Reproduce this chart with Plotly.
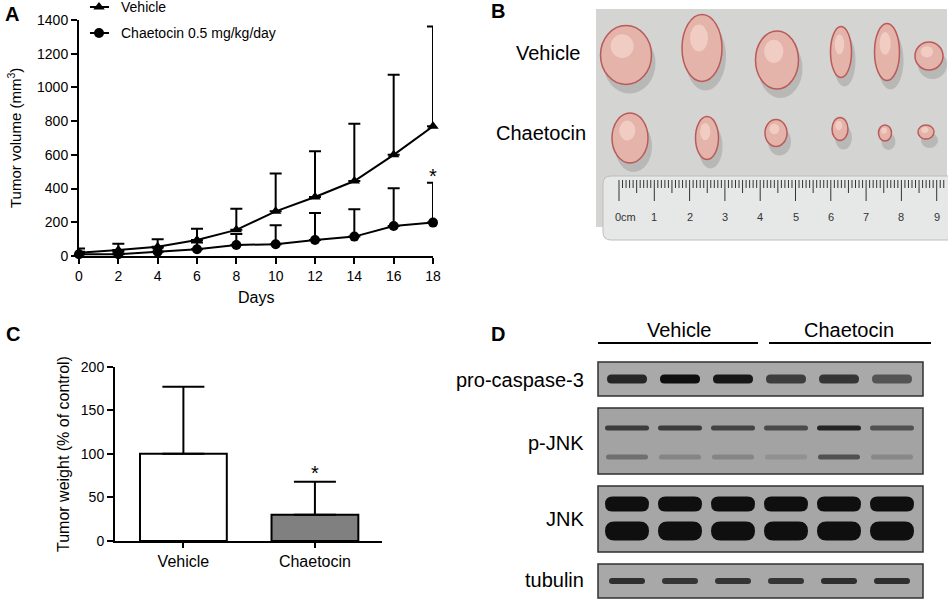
import plotly.graph_objects as go

# ---- panel A data: tumor volume over time
days = [0, 2, 4, 6, 8, 10, 12, 14, 16, 18]
vehicle_mean = [20, 35, 55, 95, 155, 265, 350, 445, 600, 770]
vehicle_err = [25, 37, 45, 67, 125, 225, 272, 340, 475, 592]
chaetocin_mean = [10, 10, 25, 40, 65, 70, 95, 115, 178, 198]
chaetocin_err = [15, 15, 25, 40, 65, 112, 160, 163, 224, 237]
series_names = ["Vehicle", "Chaetocin 0.5 mg/kg/day"]
series_symbols = ["triangle-up", "circle"]

# ---- panel C data: tumor weight
groups = ["Vehicle", "Chaetocin"]
weight_mean = [100, 30]
weight_err = [77, 38]
bar_colors = ["white", "#808080"]

# ---- panel D: band intensity per lane (approx. from blot)
lane_x = [627, 680, 733, 786, 839, 892]
procasp = [0.85, 1.0, 0.95, 0.7, 0.75, 0.55]
pjnk_up = [0.7, 0.7, 0.65, 0.6, 0.85, 0.55]
pjnk_low = [0.35, 0.2, 0.2, 0.12, 0.55, 0.18]
jnk = [1, 1, 1, 1, 1, 1]
tubulin = [0.8, 0.75, 0.75, 0.75, 0.8, 0.8]

# ---- panel B: tumors in photo (cx, cy, w, h) in pixels
tumors_vehicle = [(626, 55, 51, 59), (702, 48, 40, 67), (777, 60, 43, 58),
                  (841, 52, 21, 51), (887, 52, 25, 57), (929, 56, 28, 28)]
tumors_chaetocin = [(630, 138, 36, 50), (707, 138, 23, 43), (776, 133, 22, 27),
                    (840, 129, 16, 23), (885, 133, 13, 16), (926, 132, 16, 14)]

W, H = 948, 601
FONT = "Liberation Sans, Arial, sans-serif"


def py(v):
    return 1 - v / H


def px(v):
    return v / W


def rrect(x0, y0, x1, y1, r):
    r = min(r, (x1 - x0) / 2, (y1 - y0) / 2)
    return (f"M{x0+r},{y0} L{x1-r},{y0} Q{x1},{y0} {x1},{y0+r} L{x1},{y1-r} "
            f"Q{x1},{y1} {x1-r},{y1} L{x0+r},{y1} Q{x0},{y1} {x0},{y1-r} "
            f"L{x0},{y0+r} Q{x0},{y0} {x0+r},{y0} Z")


fig = go.Figure()

# panel A traces
for name, sym, mean, err in zip(series_names, series_symbols,
                                [vehicle_mean, chaetocin_mean], [vehicle_err, chaetocin_err]):
    fig.add_trace(go.Scatter(
        x=days, y=mean, name=name, mode="lines+markers", showlegend=False,
        line=dict(color="black", width=2),
        marker=dict(symbol=sym, size=10, color="black"),
        error_y=dict(type="data", symmetric=False, array=err,
                     arrayminus=[0] * len(days), color="black", thickness=2, width=6),
        cliponaxis=False, xaxis="x", yaxis="y"))

# panel C bars
fig.add_trace(go.Bar(
    x=groups, y=weight_mean, width=0.66, showlegend=False,
    marker=dict(color=bar_colors, line=dict(color="black", width=2)),
    error_y=dict(type="data", symmetric=False, array=weight_err,
                 arrayminus=[0, 0], color="black", thickness=2, width=21),
    xaxis="x2", yaxis="y2"))

shapes = []

# panel B photo
shapes.append(dict(type="rect", xref="x3", yref="y3", x0=596, x1=947, y0=9, y1=227,
                   fillcolor="#d4d4d2", line=dict(width=0), layer="below"))
for cx, cy, w, h in tumors_vehicle + tumors_chaetocin:
    shapes.append(dict(type="circle", xref="x3", yref="y3",
                       x0=cx - w / 2 + 3, x1=cx + w / 2 + 4, y0=cy - h / 2 + 8, y1=cy + h / 2 + 9,
                       fillcolor="rgba(150,150,150,0.45)", line=dict(width=0)))
    shapes.append(dict(type="circle", xref="x3", yref="y3",
                       x0=cx - w / 2, x1=cx + w / 2, y0=cy - h / 2, y1=cy + h / 2,
                       fillcolor="#e4b3a9", line=dict(color="#b95b5b", width=1.5)))
    shapes.append(dict(type="circle", xref="x3", yref="y3",
                       x0=cx - w * 0.3, x1=cx + w * 0.15, y0=cy - h * 0.35, y1=cy + h * 0.05,
                       fillcolor="rgba(245,215,205,0.7)", line=dict(width=0)))
# ruler (drawn under the tick trace)
shapes.append(dict(type="path", xref="x3", yref="y3", path=rrect(603, 176, 960, 240, 8),
                   fillcolor="#e6e7e7", line=dict(color="#bdbdbd", width=1), layer="below"))

# panel D header lines and blot boxes
shapes.append(dict(type="line", xref="x3", yref="y3", x0=598, x1=758, y0=343, y1=343,
                   line=dict(color="black", width=2)))
shapes.append(dict(type="line", xref="x3", yref="y3", x0=769, x1=931, y0=343, y1=343,
                   line=dict(color="black", width=2)))
boxes = [(362, 396, "#a9a9a9"), (408, 474, "#a3a3a3"), (486, 552, "#a6a6a6"), (564, 598, "#a8a8a8")]
for y0, y1, col in boxes:
    shapes.append(dict(type="rect", xref="x3", yref="y3", x0=598, x1=923, y0=y0, y1=y1,
                       fillcolor=col, line=dict(color="#303030", width=1.5)))


def bands(yc, hgt, wid, levels):
    for xc, a in zip(lane_x, levels):
        shapes.append(dict(type="path", xref="x3", yref="y3",
                           path=rrect(xc - wid / 2, yc - hgt / 2, xc + wid / 2, yc + hgt / 2, hgt / 2),
                           fillcolor=f"rgba(15,15,15,{a})", line=dict(width=0)))


bands(379, 9, 40, procasp)
bands(428, 5, 44, pjnk_up)
bands(457, 5, 42, pjnk_low)
bands(504, 15, 44, jnk)
bands(531, 19, 44, jnk)
bands(581, 6, 36, tubulin)

# ruler tick marks as an overlay trace
rx, ry = [], []
for i in range(0, 93):
    x = 619 + i * 3.53
    if i % 10 == 0:
        y1 = 201
    elif i % 5 == 0:
        y1 = 193
    else:
        y1 = 188
    rx += [x, x, None]
    ry += [180, y1, None]
fig.add_trace(go.Scatter(x=rx, y=ry, mode="lines", line=dict(color="#333333", width=1),
                         showlegend=False, hoverinfo="skip", xaxis="x3", yaxis="y3"))

# hand-drawn legend for panel A (sample line + marker, then label)
ann = []
for row, (name, sym) in enumerate(zip(series_names, series_symbols)):
    ly = 7 + row * 26
    shapes.append(dict(type="line", xref="x3", yref="y3", x0=90, x1=109, y0=ly, y1=ly,
                       line=dict(color="black", width=2)))
    fig.add_trace(go.Scatter(x=[99], y=[ly], mode="markers",
                             marker=dict(symbol=sym, size=10, color="black"),
                             showlegend=False, hoverinfo="skip", cliponaxis=False,
                             xaxis="x3", yaxis="y3"))
    ann.append(dict(x=119, y=ly, xref="x3", yref="y3", text=name, showarrow=False,
                    xanchor="left", yanchor="middle",
                    font=dict(family=FONT, size=14, color="black")))


def text(x, y, s, size, xanchor="center", bold=False, angle=0, color="black"):
    ann.append(dict(x=x, y=y, xref="x3", yref="y3", text=f"<b>{s}</b>" if bold else s,
                    showarrow=False, xanchor=xanchor, yanchor="middle", textangle=angle,
                    font=dict(family=FONT, size=size, color=color)))


# panel letters
text(3, 14, "A", 20, "left", True)
text(489, 11, "B", 20, "left", True)
text(4, 334, "C", 20, "left", True)
text(489, 334, "D", 20, "left", True)
# panel A axis titles and star
text(14, 138, "Tumor volume (mm<sup>3</sup>)", 15, angle=-90)
text(256, 297, "Days", 16)
ann.append(dict(x=days[-1], y=chaetocin_mean[-1] + chaetocin_err[-1], xref="x", yref="y",
                text="*", showarrow=False, yanchor="bottom", yshift=-6,
                font=dict(family=FONT, size=20, color="black")))
# panel C
text(63, 454, "Tumor weight (% of control)", 16, angle=-90)
ann.append(dict(x="Chaetocin", y=weight_mean[1] + weight_err[1], xref="x2", yref="y2",
                text="*", showarrow=False, yanchor="bottom", yshift=-4,
                font=dict(family=FONT, size=20, color="black")))
# panel B labels
text(583, 53, "Vehicle", 20, "right")
text(588, 133, "Chaetocin", 20, "right")
for k in range(10):
    text(619 + k * 35.3 + (6 if k == 0 else 0), 217, "0cm" if k == 0 else str(k), 11, color="#333333")
# panel D labels
text(679, 330, "Vehicle", 20)
text(849, 330, "Chaetocin", 20)
text(586, 380, "pro-caspase-3", 20, "right")
text(586, 443, "p-JNK", 20, "right")
text(586, 519, "JNK", 20, "right")
text(586, 580, "tubulin", 20, "right")

axis_common = dict(showline=True, linecolor="black", linewidth=2, ticks="outside",
                   ticklen=6, tickwidth=2, tickcolor="black", showgrid=False, zeroline=False,
                   automargin=False, tickfont=dict(family=FONT, size=14, color="black"))

fig.update_layout(
    width=W, height=H, margin=dict(l=0, r=0, t=0, b=0, autoexpand=False),
    paper_bgcolor="white", plot_bgcolor="rgba(0,0,0,0)",
    font=dict(family=FONT, color="black"), showlegend=False,
    xaxis=dict(domain=[px(79), px(433)], range=[0, 18], tickvals=days, anchor="y",
               **axis_common),
    yaxis=dict(domain=[py(256), py(20)], range=[0, 1400], dtick=200, anchor="x",
               **axis_common),
    xaxis2=dict(domain=[px(115), px(382)], type="category", range=[-0.52, 1.51],
                anchor="y2", **{**axis_common, "tickfont": dict(family=FONT, size=16, color="black"),
                                "ticklen": 5}),
    yaxis2=dict(domain=[py(541), py(366.7)], range=[0, 200], dtick=50, anchor="x2",
                **axis_common),
    xaxis3=dict(domain=[0, 1], range=[0, W], visible=False, anchor="y3", fixedrange=True,
                automargin=False),
    yaxis3=dict(domain=[0, 1], range=[H, 0], visible=False, anchor="x3", fixedrange=True,
                automargin=False),
    shapes=shapes, annotations=ann, bargap=0.3,
)

fig.write_html("out.html", config={"displayModeBar": False},
               post_script="document.body.style.margin='0';")
